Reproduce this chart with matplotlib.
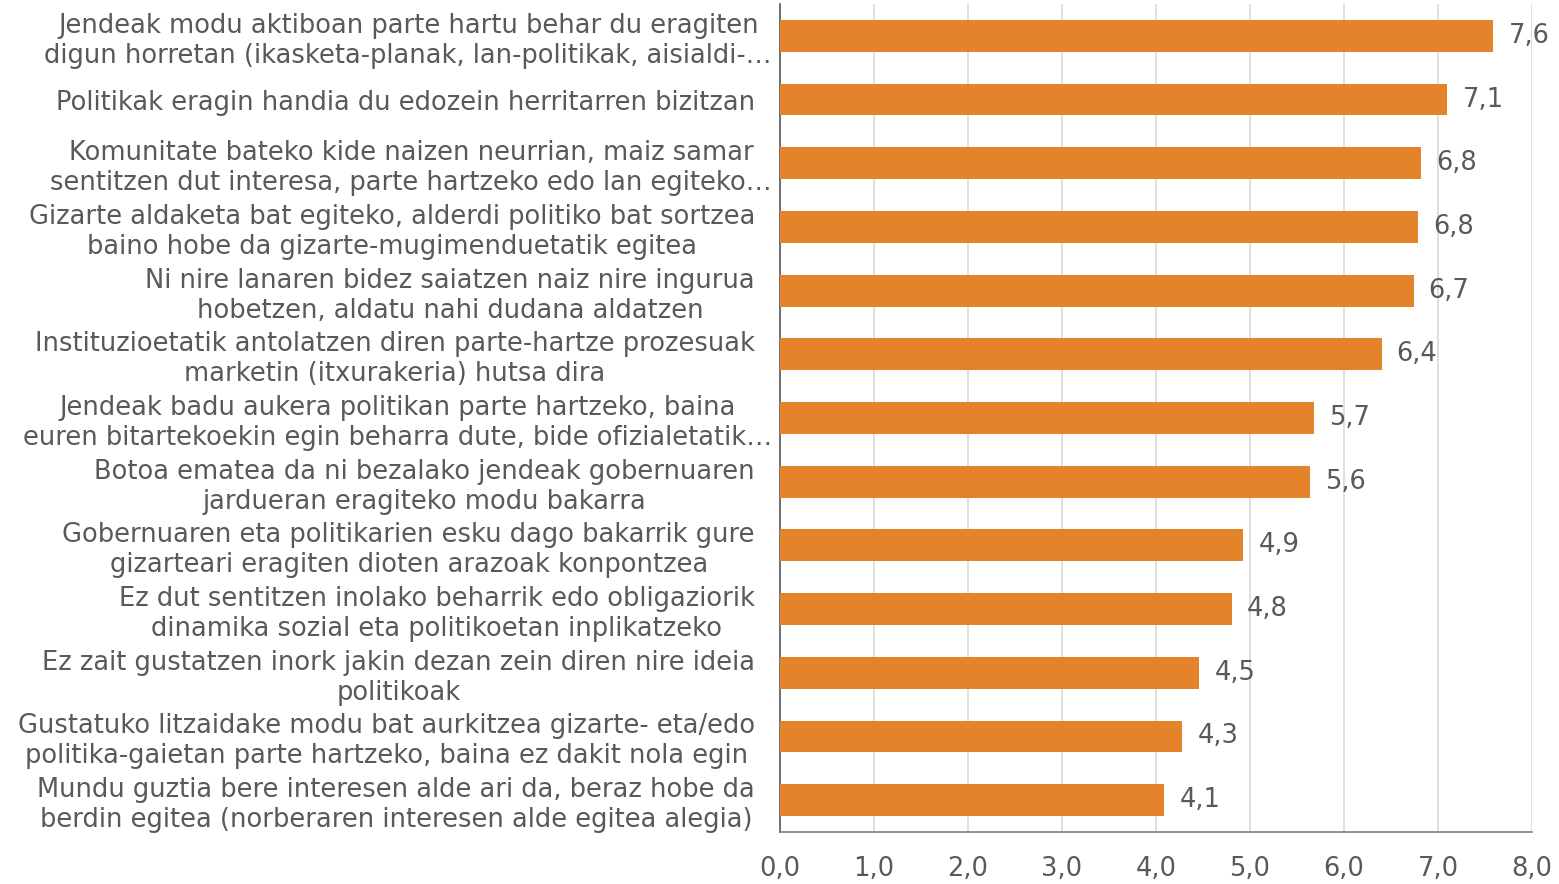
import matplotlib.pyplot as plt
import matplotlib.transforms as mtransforms
import numpy as np

# statements (top to bottom as in the chart)
labels = [
    "Jendeak modu aktiboan parte hartu behar du eragiten\ndigun horretan (ikasketa-planak, lan-politikak, aisialdi-…",
    "Politikak eragin handia du edozein herritarren bizitzan",
    "Komunitate bateko kide naizen neurrian, maiz samar\nsentitzen dut interesa, parte hartzeko edo lan egiteko…",
    "Gizarte aldaketa bat egiteko, alderdi politiko bat sortzea\nbaino hobe da gizarte-mugimenduetatik egitea",
    "Ni nire lanaren bidez saiatzen naiz nire ingurua\nhobetzen, aldatu nahi dudana aldatzen",
    "Instituzioetatik antolatzen diren parte-hartze prozesuak\nmarketin (itxurakeria) hutsa dira",
    "Jendeak badu aukera politikan parte hartzeko, baina\neuren bitartekoekin egin beharra dute, bide ofizialetatik…",
    "Botoa ematea da ni bezalako jendeak gobernuaren\njardueran eragiteko modu bakarra",
    "Gobernuaren eta politikarien esku dago bakarrik gure\ngizarteari eragiten dioten arazoak konpontzea",
    "Ez dut sentitzen inolako beharrik edo obligaziorik\ndinamika sozial eta politikoetan inplikatzeko",
    "Ez zait gustatzen inork jakin dezan zein diren nire ideia\npolitikoak",
    "Gustatuko litzaidake modu bat aurkitzea gizarte- eta/edo\npolitika-gaietan parte hartzeko, baina ez dakit nola egin",
    "Mundu guztia bere interesen alde ari da, beraz hobe da\nberdin egitea (norberaren interesen alde egitea alegia)",
]
values = [7.59, 7.10, 6.82, 6.79, 6.74, 6.40, 5.68, 5.64, 4.93, 4.81, 4.46, 4.28, 4.09]
xticks = [0, 1, 2, 3, 4, 5, 6, 7, 8]

bar_color = "#E4832A"
text_color = "#595959"
fs = 18.5

fig = plt.figure(figsize=(15.59, 8.84), dpi=100)
ax = fig.add_axes([780 / 1559, 1 - 832 / 884, (1532 - 780) / 1559, (832 - 4) / 884])

y = np.arange(len(values))
ax.barh(y, values, height=0.5, color=bar_color, zorder=3)
for yi, v in zip(y, values):
    ax.text(v + 0.16, yi, f"{v:.1f}".replace(".", ","), va="center", ha="left",
            fontsize=fs, color=text_color)

ax.set_ylim(len(values) - 0.5, -0.5)
ax.set_xlim(0, 8)
ax.set_yticks(y)
ax.set_yticklabels(labels, fontsize=fs, color=text_color, multialignment="center")
ax.set_xticks(xticks)
ax.set_xticklabels([f"{t:.1f}".replace(".", ",") for t in xticks], fontsize=fs, color=text_color)
ax.tick_params(axis="both", length=0)
ax.tick_params(axis="y", pad=18)
ax.tick_params(axis="x", pad=17)

# truncated labels (ending with …) overflow a bit to the right, like in Excel
shift = mtransforms.ScaledTranslation(0.17, 0, fig.dpi_scale_trans)
for lab in ax.get_yticklabels():
    if lab.get_text().endswith("…"):
        lab.set_transform(lab.get_transform() + shift)

ax.grid(axis="x", color="#D9D9D9", linewidth=1.2, zorder=0)
for s in ["top", "right"]:
    ax.spines[s].set_visible(False)
ax.spines["left"].set_color("#595959")
ax.spines["bottom"].set_color("#808080")
ax.spines["left"].set_linewidth(1.2)
ax.spines["bottom"].set_linewidth(1.2)

fig.savefig("out.png", dpi=100)
